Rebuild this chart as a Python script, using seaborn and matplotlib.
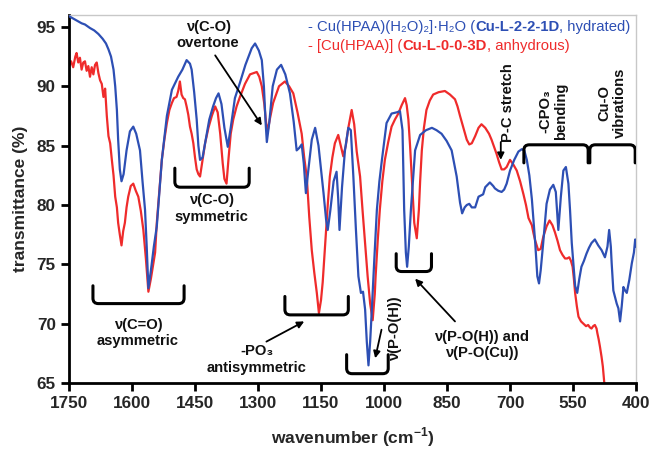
import seaborn as sns
import matplotlib.pyplot as plt
import pandas as pd
import numpy as np
from matplotlib.path import Path
from matplotlib.patches import PathPatch

# IR spectra of the two copper phosphonate phases
wn_blue = [1750, 1740, 1730, 1720, 1712, 1700, 1690, 1680, 1670, 1662, 1656, 1650, 1644, 1640, 1636,
           1633, 1629, 1625, 1620, 1613, 1605, 1597, 1590, 1581, 1575, 1569, 1565, 1561, 1555, 1548,
           1541, 1535, 1529, 1517, 1505, 1490, 1480, 1470, 1462, 1458, 1452, 1446, 1442, 1438, 1432,
           1426, 1416, 1407, 1400, 1394, 1387, 1380, 1372, 1365, 1355, 1343, 1330, 1315, 1307, 1298,
           1291, 1286, 1282, 1279, 1273, 1265, 1255, 1245, 1235, 1224, 1215, 1208, 1202, 1196, 1191,
           1186, 1180, 1172, 1164, 1156, 1150, 1144, 1138, 1134, 1128, 1120, 1113, 1109, 1106, 1100,
           1093, 1085, 1079, 1073, 1067, 1061, 1055, 1050, 1045, 1041, 1037, 1033, 1029, 1023, 1017,
           1011, 1005, 994, 982, 970, 962, 956, 952, 948, 945, 941, 936, 926, 914, 900,
           886, 875, 863, 851, 839, 827, 819, 814, 808, 803, 797, 791, 783, 775, 764,
           759, 748, 740, 736, 728, 720, 714, 708, 700, 690, 680, 672, 666, 660, 654,
           648, 640, 635, 631, 627, 621, 613, 605, 597, 591, 585, 579, 573, 567, 561,
           557, 553, 545, 540, 535, 530, 524, 518, 512, 506, 498, 490, 482, 474, 468,
           464, 460, 458, 454, 446, 442, 438, 434, 430, 426, 422, 416, 410, 405, 402, 400]
t_blue = [95.9, 95.7, 95.5, 95.3, 95.2, 94.9, 94.7, 94.4, 94.0, 93.6, 93.1, 92.5, 91.4, 90.0, 88.0,
          85.5, 83.0, 82.0, 82.6, 84.6, 86.2, 86.6, 86.0, 84.6, 82.0, 79.6, 76.5, 73.0, 74.5, 76.5,
          78.2, 81.0, 83.8, 87.5, 89.7, 90.8, 91.4, 92.2, 91.9, 91.4, 89.5, 87.2, 85.0, 83.8, 84.0,
          85.2, 87.2, 88.3, 89.0, 89.4, 88.5, 86.5, 84.9, 86.5, 89.0, 90.3, 91.8, 93.2, 93.6, 93.0,
          92.2, 90.0, 87.0, 85.3, 87.0, 90.0, 91.4, 91.8, 91.0, 89.4, 87.0, 84.6, 84.8, 85.1, 83.5,
          81.0, 83.0, 85.5, 86.5, 85.0, 83.0, 81.0, 78.8, 77.9, 79.5, 82.0, 82.8, 80.5, 77.9, 81.5,
          84.6, 86.5, 86.3, 82.4, 78.0, 74.0, 72.6, 72.7, 71.2, 68.5, 66.5, 68.5, 71.2, 75.5, 79.6,
          82.0, 83.8, 86.9, 87.7, 87.8, 87.9, 86.3, 79.6, 76.0, 74.8, 76.5, 79.6, 84.6, 85.9, 86.3,
          86.5, 86.3, 86.0, 85.4, 84.6, 82.4, 80.2, 79.3, 79.8, 80.0, 80.1, 79.8, 79.8, 80.7, 80.9,
          81.5, 81.9, 81.6, 81.4, 81.2, 81.1, 81.3, 81.8, 82.9, 83.8, 84.5, 84.7, 84.6, 83.8, 82.5,
          80.5, 76.8, 74.0, 73.4, 74.5, 76.8, 80.1, 81.3, 81.7, 81.1, 77.9, 80.7, 82.9, 83.2, 81.8,
          79.5, 76.8, 73.2, 72.6, 73.8, 74.8, 75.3, 75.9, 76.4, 76.8, 77.1, 76.6, 76.2, 75.6, 76.5,
          77.9, 76.5, 75.1, 72.8, 71.7, 71.3, 70.2, 71.5, 73.1, 72.8, 72.6, 73.7, 75.1, 76.0, 77.1, 76.5]

wn_red = [1750, 1745, 1740, 1735, 1732, 1728, 1724, 1720, 1716, 1712, 1708, 1704, 1700, 1696, 1692,
          1688, 1684, 1680, 1676, 1672, 1668, 1664, 1660, 1656, 1652, 1648, 1644, 1640, 1636, 1633,
          1629, 1625, 1621, 1617, 1613, 1609, 1603, 1597, 1591, 1585, 1579, 1573, 1567, 1561, 1555,
          1549, 1545, 1541, 1535, 1529, 1523, 1517, 1511, 1505, 1500, 1494, 1490, 1486, 1482, 1478,
          1474, 1470, 1466, 1462, 1458, 1454, 1450, 1446, 1442, 1438, 1432, 1426, 1418, 1410, 1402,
          1396, 1390, 1384, 1380, 1375, 1370, 1365, 1359, 1351, 1343, 1331, 1319, 1303, 1297, 1291,
          1285, 1281, 1277, 1272, 1264, 1250, 1236, 1226, 1216, 1206, 1196, 1190, 1184, 1178, 1172,
          1166, 1160, 1155, 1150, 1146, 1140, 1134, 1129, 1123, 1117, 1109, 1103, 1097, 1091, 1085,
          1077, 1071, 1065, 1057, 1051, 1045, 1039, 1033, 1027, 1022, 1020, 1015, 1010, 1004, 998,
          990, 982, 974, 966, 958, 950, 946, 942, 938, 934, 928, 922, 917, 914, 910,
          905, 899, 891, 883, 870, 855, 843, 831, 825, 819, 811, 803, 797, 791, 783,
          775, 768, 759, 750, 744, 738, 732, 726, 720, 714, 708, 700, 692, 684, 676,
          668, 662, 656, 648, 644, 640, 633, 627, 621, 613, 606, 599, 593, 587, 581,
          575, 569, 564, 559, 555, 551, 548, 545, 541, 537, 531, 525, 519, 514, 510,
          506, 502, 498, 494, 492, 489, 486, 482, 479, 475, 470]
t_red = [91.7, 92.1, 91.6, 92.5, 92.8, 92.0, 92.4, 91.4, 92.0, 92.1, 91.3, 91.7, 90.8, 91.6, 91.0,
         91.8, 92.0, 91.1, 90.5, 90.2, 89.1, 89.8, 87.5, 85.8, 85.2, 83.8, 82.5, 80.7, 79.8, 78.5,
         77.5, 76.6, 77.8, 78.5, 79.8, 80.7, 81.6, 81.8, 81.2, 80.7, 79.5, 77.9, 75.5, 72.7, 73.8,
         75.1, 76.0, 78.5, 81.2, 83.8, 85.5, 86.9, 88.0, 88.6, 89.0, 89.1, 89.6, 90.4, 89.3, 89.0,
         88.9, 88.3, 87.6, 86.6, 86.0, 85.2, 84.0, 83.0, 82.6, 82.4, 83.8, 85.2, 86.5, 87.5, 88.3,
         87.8, 86.0, 83.5, 82.2, 81.8, 84.0, 86.0, 87.2, 88.3, 89.1, 90.2, 91.0, 91.2, 90.8, 90.0,
         88.5, 87.0, 86.2, 87.2, 88.6, 90.0, 90.4, 90.0, 89.4, 87.8, 86.0, 84.0, 82.4, 79.0, 76.2,
         74.3, 72.6, 70.9, 72.0, 73.5, 76.8, 80.0, 82.4, 84.0, 85.2, 85.9, 85.0, 84.1, 85.0, 86.5,
         88.0, 86.8, 84.5, 82.4, 79.5, 76.8, 74.0, 71.7, 70.3, 72.5, 74.0, 77.0, 79.6, 82.0, 83.8,
         85.3, 86.6, 87.2, 87.7, 88.4, 89.0, 88.4, 87.2, 85.0, 82.4, 78.5, 77.2, 79.6, 82.0, 84.6,
         86.5, 88.0, 88.8, 89.3, 89.5, 89.6, 89.3, 88.9, 88.3, 87.5, 86.5, 85.5, 85.1, 85.2, 85.8,
         86.5, 86.8, 86.5, 86.0, 85.5, 84.9, 84.3, 83.6, 83.0, 83.0, 83.2, 83.8, 83.4, 82.9, 82.0,
         80.9, 80.0, 78.9, 78.3, 77.6, 77.0, 76.2, 76.3, 77.3, 78.2, 78.7, 78.3, 77.7, 77.0, 76.2,
         75.8, 75.5, 75.5, 75.6, 75.3, 74.8, 73.8, 72.6, 71.5, 70.6, 70.2, 70.0, 69.8, 69.9, 69.7,
         69.6, 69.8, 69.9, 69.6, 69.2, 68.7, 68.1, 67.2, 66.4, 64.8, 62.5]

x_ticks = [1750, 1600, 1450, 1300, 1150, 1000, 850, 700, 550, 400]
y_ticks = [65, 70, 75, 80, 85, 90, 95]

blue = '#2d4fb4'
red = '#ef2b2b'

sns.set_style("white")
plt.rcParams['font.family'] = ['Liberation Sans', 'DejaVu Sans']
plt.rcParams['mathtext.fontset'] = 'custom'
plt.rcParams['mathtext.rm'] = 'Liberation Sans'
plt.rcParams['mathtext.bf'] = 'Liberation Sans:bold'

df_blue = pd.DataFrame({'wavenumber': wn_blue, 'transmittance': t_blue})
df_red = pd.DataFrame({'wavenumber': wn_red, 'transmittance': t_red})

fig = plt.figure(figsize=(6.51, 4.54), dpi=100)
ax = fig.add_axes([0.106, 0.156, 0.871, 0.811])

sns.lineplot(data=df_blue, x='wavenumber', y='transmittance', color=blue, lw=1.6,
             estimator=None, sort=False, ax=ax, zorder=3)
sns.lineplot(data=df_red, x='wavenumber', y='transmittance', color=red, lw=1.6,
             estimator=None, sort=False, ax=ax, zorder=2)

ax.set_xlim(1750, 400)
ax.set_ylim(65, 96)
ax.set_xticks(x_ticks)
ax.set_yticks(y_ticks)
ax.tick_params(axis='both', direction='out', length=6, width=2, labelsize=12.3, color='black',
               bottom=True, left=True)
for lab in ax.get_xticklabels() + ax.get_yticklabels():
    lab.set_fontweight('bold')

for side in ['left', 'bottom']:
    ax.spines[side].set_color('black')
    ax.spines[side].set_linewidth(2)
for side in ['top', 'right']:
    ax.spines[side].set_color('#c8c8c8')
    ax.spines[side].set_linewidth(1)

ax.set_xlabel(r'wavenumber (cm$^{\mathbf{-1}}$)', fontsize=12.5, fontweight='bold')
ax.set_ylabel('transmittance (%)', fontsize=12.5, fontweight='bold')
ax.xaxis.set_label_coords(0.5, -0.115)
ax.yaxis.set_label_coords(-0.072, 0.5)


def bracket(x_left, x_right, y_end, y_line, lw=2.2):
    # U shaped bracket with rounded corners (in data coordinates)
    dx = 13 * np.sign(x_right - x_left)
    dy = 0.45 * np.sign(y_end - y_line)
    verts = [(x_left, y_end), (x_left, y_line + dy), (x_left, y_line), (x_left + dx, y_line),
             (x_right - dx, y_line), (x_right, y_line), (x_right, y_line + dy), (x_right, y_end)]
    codes = [Path.MOVETO, Path.LINETO, Path.CURVE3, Path.CURVE3,
             Path.LINETO, Path.CURVE3, Path.CURVE3, Path.LINETO]
    ax.add_patch(PathPatch(Path(verts, codes), fill=False, lw=lw, edgecolor='black',
                           capstyle='round', zorder=4))


def arrow(x0, y0, x1, y1):
    ax.annotate('', xy=(x1, y1), xytext=(x0, y0),
                arrowprops=dict(arrowstyle='-|>', lw=1.3, color='black', mutation_scale=10,
                                shrinkA=0, shrinkB=0), zorder=5)


lbl = dict(fontsize=10.6, fontweight='bold', ha='center', va='center', color='#111111',
           linespacing=1.2)

# band assignments
ax.text(1419, 94.3, 'ν(C-O)\novertone', **lbl)
arrow(1402, 92.6, 1291, 86.7)

bracket(1498, 1321, 83.1, 81.5)
ax.text(1410, 79.7, 'ν(C-O)\nsymmetric', **lbl)

bracket(1693, 1476, 73.2, 71.7)
ax.text(1586, 69.2, 'ν(C=O)\nasymmetric', **lbl)

bracket(1236, 1085, 72.3, 70.75)
ax.text(1303, 67.0, '-PO₃\nantisymmetric', **lbl)
arrow(1280, 68.5, 1190, 70.2)

bracket(1089, 990, 67.4, 65.8)
ax.text(974, 69.6, 'ν(P-O(H))', rotation=90, **lbl)
arrow(1006, 69.5, 1021, 67.1)

bracket(971, 887, 75.9, 74.4)
ax.text(767, 68.2, 'ν(P-O(H)) and\nν(P-O(Cu))', **lbl)
arrow(831, 70.2, 926, 73.8)

ax.text(704, 88.6, 'P-C stretch', rotation=90, **lbl)
arrow(722, 85.3, 722, 83.8)

bracket(667, 514, 83.55, 85.07)
bracket(510, 402, 83.55, 85.07)
ax.text(597, 87.9, '-CPO₃\nbending', rotation=90, multialignment='center', **lbl)
ax.text(457, 88.6, 'Cu-O\nvibrations', rotation=90, multialignment='center', **lbl)

# legend written as coloured text lines
def text_line(x, y, pieces, color):
    prev = ax.text(x, y, pieces[0][0], fontsize=10.7, color=color, fontweight=pieces[0][1],
                   ha='left', va='center')
    for s, w in pieces[1:]:
        prev = ax.annotate(s, xy=(1, 0), xycoords=prev, fontsize=10.7, color=color,
                           fontweight=w, ha='left', va='bottom')


text_line(1181, 95.0, [('- Cu(HPAA)(H₂O)₂]·H₂O (', 'normal'), ('Cu-L-2-2-1D', 'bold'),
                       (', hydrated)', 'normal')], blue)
text_line(1181, 93.4, [('- [Cu(HPAA)] (', 'normal'), ('Cu-L-0-0-3D', 'bold'),
                       (', anhydrous)', 'normal')], red)

plt.savefig('out.png', dpi=100, facecolor='white')
